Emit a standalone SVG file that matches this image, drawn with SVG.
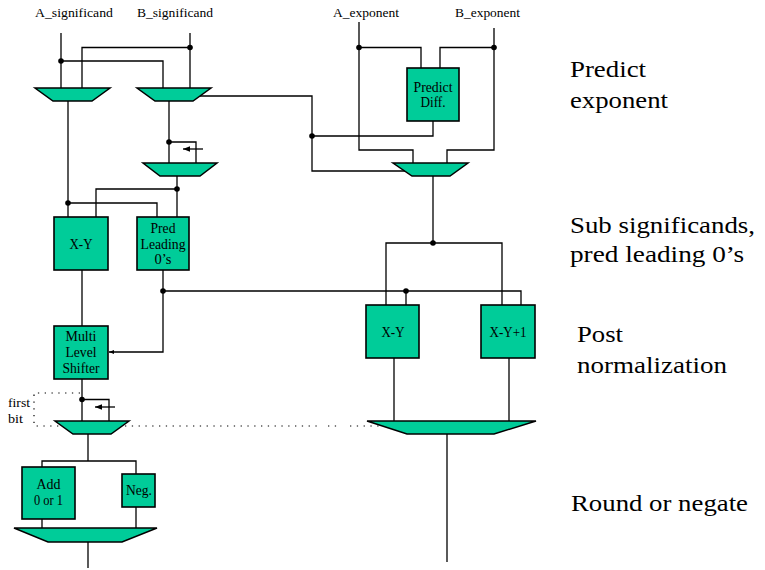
<svg xmlns="http://www.w3.org/2000/svg" width="765" height="570" viewBox="0 0 765 570">
<defs>
<style>
.box{fill:#00CC99;stroke:#000;stroke-width:1.6}
.mux{fill:#00CC99;stroke:#000;stroke-width:1.5}
.wire{fill:none;stroke:#000;stroke-width:1.3}
.dotted{fill:none;stroke:#000;stroke-width:1.2;stroke-dasharray:1.3 5.5}
.jn{fill:#000}
text{font-family:'Liberation Serif','Times New Roman',serif;fill:#000}
.sm{font-size:13px}
.bx{font-size:14px;text-anchor:middle}
.big{font-size:23px}
</style>
<marker id="arr" viewBox="0 0 10 10" refX="10" refY="5" markerWidth="7" markerHeight="7" orient="auto" markerUnits="userSpaceOnUse">
<path d="M0,1 L10,5 L0,9 z" fill="#000"/>
</marker>
<marker id="arrS" viewBox="0 0 10 10" refX="10" refY="5" markerWidth="5" markerHeight="5" orient="auto" markerUnits="userSpaceOnUse">
<path d="M0,1 L10,5 L0,9 z" fill="#000"/>
</marker>
</defs>
<rect width="765" height="570" fill="#fff"/>

<g id="connectors">
<path class="wire" d="M61,33 V88"/>
<path class="wire" d="M190,33 V88"/>
<path class="wire" d="M190,47.5 H82 V88"/>
<path class="wire" d="M61,61 H163 V88"/>
<path class="wire" d="M200,96 H312 V171 H405"/>
<path class="wire" d="M68,101 V217"/>
<path class="wire" d="M68,203 H157 V217"/>
<path class="wire" d="M169,101 V163"/>
<path class="wire" d="M169,142 H196 V163"/>
<path class="wire" d="M203,149 H183" marker-end="url(#arr)"/>
<path class="wire" d="M177,176 V217"/>
<path class="wire" d="M177,189 H96 V217"/>
<path class="wire" d="M359,22 V150 H413 V163"/>
<path class="wire" d="M494,28 V150 H447 V163"/>
<path class="wire" d="M359,47.5 H421 V68"/>
<path class="wire" d="M494,47.5 H440 V68"/>
<path class="wire" d="M433,121 V136 H312"/>
<path class="wire" d="M433,176 V243"/>
<path class="wire" d="M386,305 V243 H502 V305"/>
<path class="wire" d="M82,270 V326"/>
<path class="wire" d="M163,270 V352 H109" marker-end="url(#arrS)"/>
<path class="wire" d="M163,291 H521 V305"/>
<path class="wire" d="M406,291 V305"/>
<path class="wire" d="M394,358 V421"/>
<path class="wire" d="M509,358 V421"/>
<path class="wire" d="M447,434 V562"/>
<path class="wire" d="M82,379 V421"/>
<path class="wire" d="M82,399.5 H109 V421"/>
<path class="wire" d="M115,407 H95" marker-end="url(#arr)"/>
<path class="dotted" d="M80,393 H34 V426 H318"/>
<path class="dotted" d="M328,426 H338"/>
<path class="dotted" d="M350,426 H381"/>
<path class="wire" d="M88,434 V461"/>
<path class="wire" d="M42,467 V461 H136 V474"/>
<path class="wire" d="M42,519 V528"/>
<path class="wire" d="M136,507 V528"/>
<path class="wire" d="M88,542 V568"/>
<circle class="jn" cx="190" cy="47.5" r="2.8"/>
<circle class="jn" cx="61" cy="61" r="2.8"/>
<circle class="jn" cx="312" cy="136" r="2.8"/>
<circle class="jn" cx="169" cy="142" r="2.8"/>
<circle class="jn" cx="177" cy="189" r="2.8"/>
<circle class="jn" cx="68" cy="203" r="2.8"/>
<circle class="jn" cx="359" cy="47.5" r="2.8"/>
<circle class="jn" cx="494" cy="47.5" r="2.8"/>
<circle class="jn" cx="433" cy="243" r="2.8"/>
<circle class="jn" cx="163" cy="291" r="2.8"/>
<circle class="jn" cx="406" cy="291" r="2.8"/>
<circle class="jn" cx="82" cy="399.5" r="2.8"/>
</g>

<g id="mux-a"><polygon class="mux" points="35,88 110,88 92,101 53,101"/></g>
<g id="mux-b"><polygon class="mux" points="137,88 211,88 193,101 155,101"/></g>
<g id="mux-lead"><polygon class="mux" points="143,163 217,163 200,176 160,176"/></g>
<g id="mux-exp"><polygon class="mux" points="393,163 468,163 450,176 412,176"/></g>
<g id="mux-post"><polygon class="mux" points="367,421 536,421 494,434 407,434"/></g>
<g id="mux-first"><polygon class="mux" points="55,421 129,421 111,434 73,434"/></g>
<g id="mux-round"><polygon class="mux" points="14,528 157,528 122,542 48,542"/></g>

<g id="predict-diff">
<rect class="box" x="407" y="68" width="52" height="53"/>
<text class="bx" x="433" y="92" textLength="39" lengthAdjust="spacingAndGlyphs">Predict</text>
<text class="bx" x="433" y="107" textLength="25" lengthAdjust="spacingAndGlyphs">Diff.</text>
</g>
<g id="sub-xy">
<rect class="box" x="54" y="217" width="54" height="53"/>
<text class="bx" x="81" y="249" textLength="23" lengthAdjust="spacingAndGlyphs">X-Y</text>
</g>
<g id="pred-leading">
<rect class="box" x="137" y="217" width="52" height="53"/>
<text class="bx" x="163" y="233" textLength="25" lengthAdjust="spacingAndGlyphs">Pred</text>
<text class="bx" x="163" y="249" textLength="45" lengthAdjust="spacingAndGlyphs">Leading</text>
<text class="bx" x="163" y="264" textLength="17" lengthAdjust="spacingAndGlyphs">0’s</text>
</g>
<g id="shifter">
<rect class="box" x="54" y="326" width="54" height="53"/>
<text class="bx" x="81" y="341" textLength="31" lengthAdjust="spacingAndGlyphs">Multi</text>
<text class="bx" x="81" y="357" textLength="31" lengthAdjust="spacingAndGlyphs">Level</text>
<text class="bx" x="81" y="373" textLength="37" lengthAdjust="spacingAndGlyphs">Shifter</text>
</g>
<g id="exp-xy">
<rect class="box" x="366" y="305" width="53" height="53"/>
<text class="bx" x="393" y="337" textLength="23" lengthAdjust="spacingAndGlyphs">X-Y</text>
</g>
<g id="exp-xy1">
<rect class="box" x="481" y="305" width="54" height="53"/>
<text class="bx" x="508" y="337" textLength="37" lengthAdjust="spacingAndGlyphs">X-Y+1</text>
</g>
<g id="add">
<rect class="box" x="22" y="467" width="53" height="52"/>
<text class="bx" x="48.5" y="489" textLength="24" lengthAdjust="spacingAndGlyphs">Add</text>
<text class="bx" x="48.5" y="505" textLength="29" lengthAdjust="spacingAndGlyphs">0 or 1</text>
</g>
<g id="neg">
<rect class="box" x="122" y="474" width="33" height="33"/>
<text class="bx" x="139" y="495" textLength="26" lengthAdjust="spacingAndGlyphs">Neg.</text>
</g>

<g id="labels">
<text class="sm" x="35" y="17" textLength="78" lengthAdjust="spacingAndGlyphs">A_significand</text>
<text class="sm" x="137" y="17" textLength="76" lengthAdjust="spacingAndGlyphs">B_significand</text>
<text class="sm" x="333" y="17" textLength="66" lengthAdjust="spacingAndGlyphs">A_exponent</text>
<text class="sm" x="455" y="17" textLength="65" lengthAdjust="spacingAndGlyphs">B_exponent</text>
<text class="sm" x="8" y="407" textLength="22" lengthAdjust="spacingAndGlyphs">first</text>
<text class="sm" x="8" y="423" textLength="15" lengthAdjust="spacingAndGlyphs">bit</text>
<text class="big" x="570" y="77" textLength="76" lengthAdjust="spacingAndGlyphs">Predict</text>
<text class="big" x="570" y="108" textLength="98" lengthAdjust="spacingAndGlyphs">exponent</text>
<text class="big" x="570" y="233" textLength="185" lengthAdjust="spacingAndGlyphs">Sub significands,</text>
<text class="big" x="570" y="262" textLength="174" lengthAdjust="spacingAndGlyphs">pred leading 0’s</text>
<text class="big" x="577" y="342" textLength="46" lengthAdjust="spacingAndGlyphs">Post</text>
<text class="big" x="577" y="373" textLength="150" lengthAdjust="spacingAndGlyphs">normalization</text>
<text class="big" x="571" y="511" textLength="177" lengthAdjust="spacingAndGlyphs">Round or negate</text>
</g>
</svg>
